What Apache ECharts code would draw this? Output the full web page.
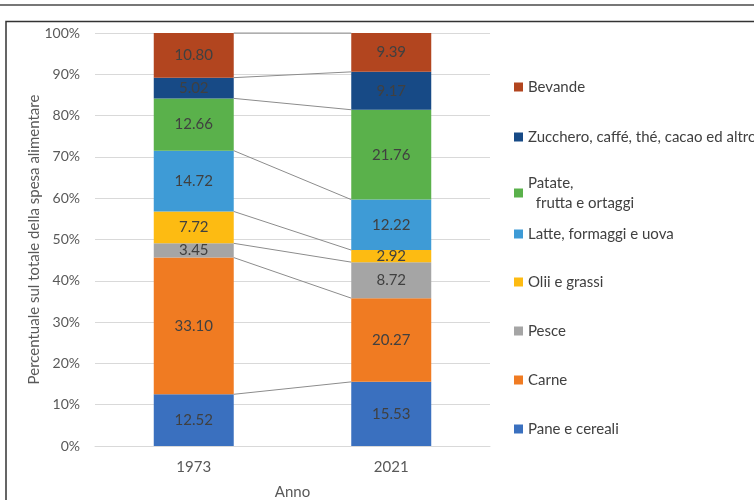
<!DOCTYPE html>
<html><head><meta charset="utf-8">
<script src="https://cdn.jsdelivr.net/npm/echarts@6/dist/echarts.min.js"></script>
<style>html,body{margin:0;padding:0;background:#fff}#c{width:754px;height:500px}</style>
</head><body><div id="c"></div>
<script>
const years = ['1973', '2021'];
const seriesNames = ['Pane e cereali', 'Carne', 'Pesce', 'Olii e grassi', 'Latte, formaggi e uova', 'Patate,\n  frutta e ortaggi', 'Zucchero, caffé, thé, cacao ed altro', 'Bevande'];
const paneCereali = [12.52, 15.53];
const carne = [33.10, 20.27];
const pesce = [3.45, 8.72];
const olii = [7.72, 2.92];
const latte = [14.72, 12.22];
const patate = [12.66, 21.76];
const zucchero = [5.02, 9.17];
const bevande = [10.80, 9.39];
const yTicks = [0, 10, 20, 30, 40, 50, 60, 70, 80, 90, 100];

const values = [paneCereali, carne, pesce, olii, latte, patate, zucchero, bevande];
const colors = ['#3A70BF', '#F07B22', '#A5A5A5', '#FDBB12', '#3E9BD6', '#5AB14B', '#174A86', '#B2451F'];
const FONT = 'Lato';
const BAR_RATIO = 0.405;

const series = values.map((v, i) => ({
  name: seriesNames[i], type: 'bar', stack: 'total', barWidth: (BAR_RATIO * 100) + '%',
  itemStyle: { color: colors[i] },
  label: { show: true, position: 'inside', color: '#404040', fontFamily: FONT, fontSize: 15,
    formatter: p => p.value.toFixed(2) },
  data: v
}));

// connector lines between tops of segments
const cum = [0, 0];
const connData = [];
values.forEach(v => { cum[0] += v[0]; cum[1] += v[1]; connData.push([0, cum[0], cum[1]]); });
series.push({
  type: 'custom', name: 'conn', silent: true, z: 5,
  encode: { x: 0, y: [1, 2] },
  data: connData,
  renderItem: (params, api) => {
    const p1 = api.coord([0, api.value(1)]);
    const p2 = api.coord([1, api.value(2)]);
    const half = api.size([1, 0])[0] * BAR_RATIO / 2;
    return { type: 'line', shape: { x1: p1[0] + half, y1: p1[1], x2: p2[0] - half, y2: p2[1] },
      style: { stroke: '#8c8c8c', lineWidth: 1 } };
  }
});

const legendTops = [429, 380, 331, 282, 234, 193, 137, 87];
const legends = seriesNames.map((n, i) => ({
  data: [n], left: 514, top: legendTops[i] - (n.indexOf('\n') >= 0 ? 20 : 10), orient: 'vertical', icon: 'rect',
  itemWidth: 9, itemHeight: 9, itemGap: 4, padding: 0, selectedMode: false,
  textStyle: { fontFamily: FONT, fontSize: 15, color: '#404040', lineHeight: 20 }
}));

const chart = echarts.init(document.getElementById('c'), null, { renderer: 'canvas' });
chart.setOption({
  animation: false,
  legend: legends,
  grid: { left: 95, right: 264, top: 33, bottom: 54, outerBoundsMode: 'none', containLabel: false },
  xAxis: {
    type: 'category', data: years, name: 'Anno', nameLocation: 'middle', nameGap: 39,
    nameMoveOverlap: false,
    nameTextStyle: { fontFamily: FONT, fontSize: 15, color: '#595959' },
    axisLine: { lineStyle: { color: '#d9d9d9' } }, axisTick: { show: false },
    axisLabel: { fontFamily: FONT, fontSize: 15, color: '#595959', margin: 14 }
  },
  yAxis: {
    type: 'value', min: yTicks[0], max: yTicks[yTicks.length - 1], interval: yTicks[1] - yTicks[0],
    name: 'Percentuale sul totale della spesa alimentare', nameLocation: 'middle', nameGap: 53,
    nameMoveOverlap: false,
    nameTextStyle: { fontFamily: FONT, fontSize: 15, color: '#595959' },
    axisLine: { show: false }, axisTick: { show: false },
    splitLine: { lineStyle: { color: '#d9d9d9' } },
    axisLabel: { fontFamily: FONT, fontSize: 14, color: '#595959', margin: 15, formatter: v => v + '%' }
  },
  series: series,
  graphic: [
    { type: 'line', shape: { x1: 0, y1: 5, x2: 754, y2: 5 }, style: { stroke: '#777', lineWidth: 2 } },
    { type: 'rect', shape: { x: 6, y: 21.5, width: 800, height: 600 }, style: { fill: 'none', stroke: '#333', lineWidth: 1.5 } }
  ]
});
</script></body></html>
